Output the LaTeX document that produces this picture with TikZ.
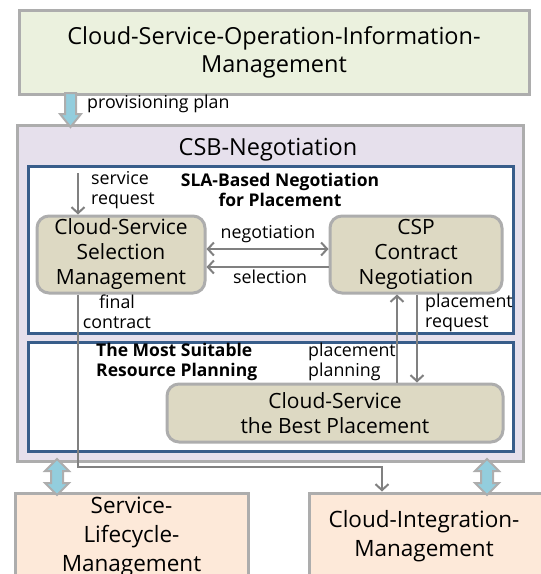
\documentclass[tikz,border=0pt]{standalone}
\usepackage{fontspec}
\setmainfont{Open Sans}
\usetikzlibrary{arrows.meta,calc}
\definecolor{topfill}{HTML}{EBF1DE}
\definecolor{csbfill}{HTML}{E6E0EC}
\definecolor{boxgray}{HTML}{ADADAD}
\definecolor{frameblue}{HTML}{385D8A}
\definecolor{nodefill}{HTML}{DDD9C3}
\definecolor{botfill}{HTML}{FDE9D9}
\definecolor{conngray}{HTML}{808080}
\definecolor{arrowblue}{HTML}{93CDDD}
\tikzset{
  bigtext/.style={font=\fontsize{23.5}{28}\selectfont},
  nodetext/.style={font=\fontsize{21}{25}\selectfont},
  bottext/.style={font=\fontsize{22.5}{29}\selectfont},
  small/.style={font=\fontsize{17.8}{20.5}\selectfont},
  smallbold/.style={font=\fontsize{17.5}{20.5}\selectfont\bfseries},
  outerbox/.style={draw=boxgray,line width=3pt,inner sep=0pt},
  framebox/.style={draw=frameblue,line width=3pt,fill=white,inner sep=0pt},
  rbox/.style={draw=boxgray,line width=3pt,fill=nodefill,rounded corners=12pt,inner sep=0pt,align=center,nodetext},
  conn/.style={draw=conngray,line width=2pt,>={Straight Barb[length=6pt,width=13pt]}},
  blockarrow/.style={fill=arrowblue,draw=boxgray,line width=2pt,line join=miter},
}
\begin{document}
\begin{tikzpicture}[x=1pt,y=-1pt]
\useasboundingbox (0,0) rectangle (541,574);
\clip (0,0) rectangle (541,574);
% top box
\node[outerbox,fill=topfill,minimum width=510pt,minimum height=84pt,align=center,bigtext] (top) at (274,52) {Cloud-Service-Operation-Information-\\Management};
% CSB box
\node[outerbox,fill=csbfill,minimum width=506pt,minimum height=336pt] (csb) at (270,293) {};
\node[bigtext] (csbt) at (268,150) {CSB-Negotiation};
% inner frames
\node[framebox,minimum width=485pt,minimum height=167pt] (sla) at (270.5,249.5) {};
\node[framebox,minimum width=485pt,minimum height=109pt] (res) at (270.5,396.5) {};
% rounded nodes
\node[rbox,minimum width=168pt,minimum height=77pt] (cssm) at (121,254.5) {Cloud-Service\\Selection\\Management};
\node[rbox,minimum width=172pt,minimum height=77pt] (csp) at (416,254.5) {CSP\\Contract\\Negotiation};
\node[rbox,minimum width=336pt,minimum height=58pt] (best) at (335,413) {Cloud-Service\\the Best Placement};
% bottom boxes
\node[outerbox,fill=botfill,minimum width=233pt,minimum height=88pt,align=center,bottext] (slm) at (131.5,537) {Service-\\Lifecycle-\\Management};
\node[outerbox,fill=botfill,minimum width=252pt,minimum height=88pt,anchor=west] (cim) at (308,537) {};
\node[align=center,bottext] (cimt) at (424,536.5) {Cloud-Integration-\\Management};
% labels
\node[small,anchor=west,inner sep=0pt] (prov) at (87,104) {provisioning plan};
\node[smallbold,align=center] (slat) at (280,190) {SLA-Based Negotiation\\for Placement};
\node[small,anchor=west,align=left,inner sep=0pt] (srl) at (91,190) {service\\request};
\node[small] (negl) at (268,234) {negotiation};
\node[small] (sell) at (270,277) {selection};
\node[small,align=center] (fcl) at (117,312) {final\\contract};
\node[small,anchor=west,align=left,inner sep=0pt] (prl) at (425,313) {placement\\request};
\node[smallbold,anchor=west,align=left,inner sep=0pt] (rest) at (96,362) {The Most Suitable\\Resource Planning};
\node[small,anchor=west,align=left,inner sep=0pt] (ppl) at (308,362) {placement\\planning};
% block arrows
\draw[blockarrow] (65,93) -- (76,93) -- (76,114) -- (81,114) -- (70.5,127) -- (60,114) -- (65,114) -- cycle;
\foreach \cx in {57,487}{
  \draw[blockarrow] (\cx,459) -- (\cx+12,471) -- (\cx+6,471) -- (\cx+6,483) -- (\cx+12,483) -- (\cx,495) -- (\cx-12,483) -- (\cx-6,483) -- (\cx-6,471) -- (\cx-12,471) -- cycle;
}
% connectors
\coordinate (sr) at (78,173);
\coordinate (fcturn) at (382,467);
\coordinate (prx) at (417,0);
\coordinate (ppx) at (397,0);
\draw[conn,->] (sr) -- (sr |- cssm.north);
\draw[conn,<->] ([yshift=5.5pt]cssm.east) -- ([yshift=5.5pt]csp.west);
\draw[conn,->] ([yshift=-12.5pt]csp.west) -- ([yshift=-12.5pt]cssm.east);
\draw[conn,->] (cssm.south -| sr) -- (sr |- fcturn) -- (fcturn) -- (fcturn |- cim.north);
\draw[conn,->] (prx |- csp.south) -- (prx |- best.north);
\draw[conn,->] (ppx |- best.north) -- (ppx |- csp.south);
\end{tikzpicture}
\end{document}
